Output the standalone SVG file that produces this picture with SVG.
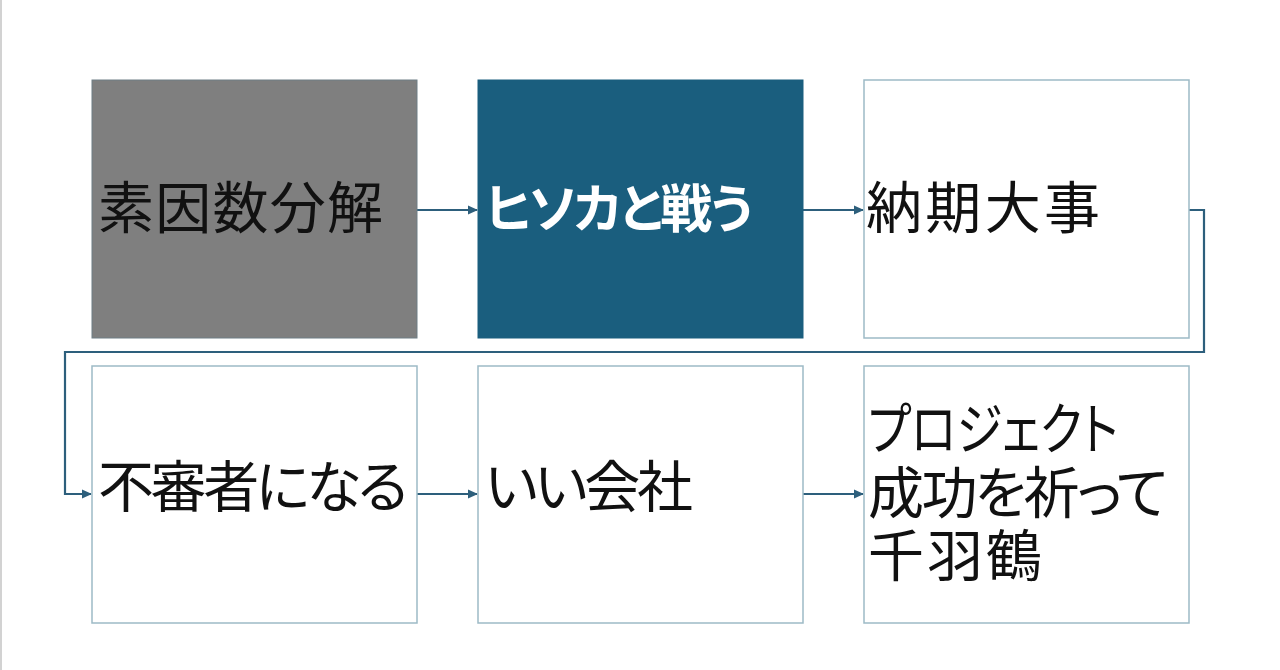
<svg xmlns="http://www.w3.org/2000/svg" width="1280" height="670" viewBox="0 0 1280 670">
<style>
.box{fill:#ffffff;stroke:#9dbac6;stroke-width:1.5}
.t{font-family:"Noto Sans CJK JP","Noto Sans",sans-serif;font-size:56px;fill:#111111;font-feature-settings:"palt"}
.w{fill:#ffffff;font-weight:bold;font-size:52px}
.c{fill:none;stroke:#2d5f7c;stroke-width:2.2}
</style>
<defs>
<marker id="ah" markerWidth="10" markerHeight="10" refX="9" refY="5" orient="auto" markerUnits="userSpaceOnUse">
<path d="M0,0.5 L10,5 L0,9.5 Z" fill="#2d5f7c"/>
</marker>
</defs>
<rect x="0" y="0" width="1280" height="670" fill="#ffffff"/>
<line x1="1" y1="0" x2="1" y2="670" stroke="#d2d2d2" stroke-width="2"/>
<g id="connectors">
<line class="c" x1="417" y1="210" x2="477" y2="210" marker-end="url(#ah)"/>
<line class="c" x1="803" y1="210" x2="863" y2="210" marker-end="url(#ah)"/>
<polyline class="c" points="1189,210 1204,210 1204,352 65,352 65,494 91,494" marker-end="url(#ah)"/>
<line class="c" x1="417" y1="494" x2="477" y2="494" marker-end="url(#ah)"/>
<line class="c" x1="803" y1="494" x2="863" y2="494" marker-end="url(#ah)"/>
</g>
<g id="n1">
<rect x="92" y="80" width="325" height="258" fill="#7f7f7f" stroke="#6f7f86" stroke-width="1"/>
<text class="t" x="98" y="228" textLength="285" lengthAdjust="spacing">素因数分解</text>
</g>
<g id="n2">
<rect x="478" y="80" width="325" height="258" fill="#1a5e7e" stroke="#1a5e7e" stroke-width="1"/>
<text class="t w" x="485" y="228" textLength="268" lengthAdjust="spacing">ヒソカと戦う</text>
</g>
<g id="n3">
<rect class="box" x="864" y="80" width="325" height="258"/>
<text class="t" x="866" y="228" textLength="234" lengthAdjust="spacing">納期大事</text>
</g>
<g id="n4">
<rect class="box" x="92" y="366" width="325" height="257"/>
<text class="t" x="98" y="507" textLength="310" lengthAdjust="spacing">不審者になる</text>
</g>
<g id="n5">
<rect class="box" x="478" y="366" width="325" height="257"/>
<text class="t" x="485" y="507" textLength="208" lengthAdjust="spacing">いい会社</text>
</g>
<g id="n6">
<rect class="box" x="864" y="366" width="325" height="257"/>
<text class="t" x="868" y="449" textLength="250" lengthAdjust="spacingAndGlyphs">プロジェクト</text>
<text class="t" x="868" y="513" textLength="300" lengthAdjust="spacing">成功を祈って</text>
<text class="t" x="868" y="576" textLength="174" lengthAdjust="spacing">千羽鶴</text>
</g>
</svg>
